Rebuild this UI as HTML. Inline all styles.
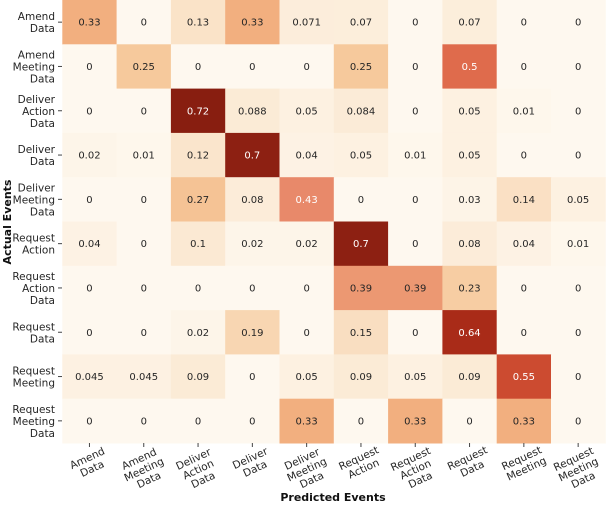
<!DOCTYPE html>
<html><head><meta charset="utf-8"><style>
body{margin:0;background:#fff;}
svg text{font-family:"DejaVu Sans","Liberation Sans",sans-serif;}
</style></head><body>
<svg id="chart" width="608" height="504" xmlns="http://www.w3.org/2000/svg"></svg>
<script>
const categories = [["Amend","Data"],["Amend","Meeting","Data"],["Deliver","Action","Data"],["Deliver","Data"],["Deliver","Meeting","Data"],["Request","Action"],["Request","Action","Data"],["Request","Data"],["Request","Meeting"],["Request","Meeting","Data"]];
const row0 = [0.33,0,0.13,0.33,0.071,0.07,0,0.07,0,0];
const row1 = [0,0.25,0,0,0,0.25,0,0.5,0,0];
const row2 = [0,0,0.72,0.088,0.05,0.084,0,0.05,0.01,0];
const row3 = [0.02,0.01,0.12,0.7,0.04,0.05,0.01,0.05,0,0];
const row4 = [0,0,0.27,0.08,0.43,0,0,0.03,0.14,0.05];
const row5 = [0.04,0,0.1,0.02,0.02,0.7,0,0.08,0.04,0.01];
const row6 = [0,0,0,0,0,0.39,0.39,0.23,0,0];
const row7 = [0,0,0.02,0.19,0,0.15,0,0.64,0,0];
const row8 = [0.045,0.045,0.09,0,0.05,0.09,0.05,0.09,0.55,0];
const row9 = [0,0,0,0,0.33,0,0.33,0,0.33,0];
const matrix = [row0,row1,row2,row3,row4,row5,row6,row7,row8,row9];

const NS="http://www.w3.org/2000/svg";
const svg=document.getElementById('chart');
const X0=62.3,Y0=0,CW=54.3,CH=44.3;
const xPos=i=>X0+i*CW, yPos=j=>Y0+j*CH;
const stops=[[0,[254,248,239]],[0.1,[251,233,211]],[0.25,[246,201,156]],[0.33,[242,175,127]],[0.43,[232,137,106]],[0.5,[223,107,76]],[0.55,[204,75,48]],[0.64,[169,43,24]],[0.7,[141,32,18]],[0.72,[136,30,16]]];
function color(v){
  for(let k=1;k<stops.length;k++){
    if(v<=stops[k][0]){const a=stops[k-1],b=stops[k];const t=(v-a[0])/(b[0]-a[0]);
      return 'rgb('+a[1].map((c,i)=>Math.round(c+(b[1][i]-c)*t)).join(',')+')';}
  }
  return 'rgb(136,30,16)';
}
function mk(tag,attrs){const e=document.createElementNS(NS,tag);for(const k in attrs)e.setAttribute(k,attrs[k]);svg.appendChild(e);return e;}
matrix.forEach((row,j)=>row.forEach((v,i)=>{
  const r=mk('rect',{x:xPos(i),y:yPos(j),width:CW+0.5,height:CH+0.5,fill:color(v)});
  
  
  const t=mk('text',{x:xPos(i)+CW/2,y:yPos(j)+CH/2+3.5,'text-anchor':'middle','font-size':'10',fill:v>0.41?'#fff':'#262626'});
  
  
  t.textContent=String(v);
}));
categories.forEach((lines,j)=>{
  const cy=yPos(j)+CH/2;
  mk('line',{x1:58,x2:62,y1:cy,y2:cy,stroke:'#444','stroke-width':1});
  const t=mk('text',{x:55,'text-anchor':'end','font-size':'10.5',fill:'#262626'});
  
  
  lines.forEach((l,k)=>{const s=document.createElementNS(NS,'tspan');s.setAttribute('x',55);s.setAttribute('y',cy+4+(k-(lines.length-1)/2)*12);s.textContent=l;t.appendChild(s);});
});
categories.forEach((lines,i)=>{
  const cx=xPos(i)+CW/2;
  mk('line',{x1:cx,x2:cx,y1:443,y2:447,stroke:'#444','stroke-width':1});
  const g=mk('g',{transform:'translate('+cx+','+(451+lines.length*6)+') rotate(-25)'});
  const t=document.createElementNS(NS,'text');
  t.setAttribute('text-anchor','middle');t.setAttribute('font-size','10.5');t.setAttribute('fill','#262626');
  
  
  lines.forEach((l,k)=>{const s=document.createElementNS(NS,'tspan');s.setAttribute('x',0);s.setAttribute('y',4+(k-(lines.length-1)/2)*11.5);s.textContent=l;t.appendChild(s);});
  g.appendChild(t);
});
const xt=mk('text',{x:333,y:501,'text-anchor':'middle','font-size':'11','font-weight':'bold',fill:'#111'});


xt.textContent='Predicted Events';
const yt=mk('text',{x:0,y:0,transform:'translate(11,222) rotate(-90)','text-anchor':'middle','font-size':'11','font-weight':'bold',fill:'#111'});


yt.textContent='Actual Events';
</script>
</body></html>
